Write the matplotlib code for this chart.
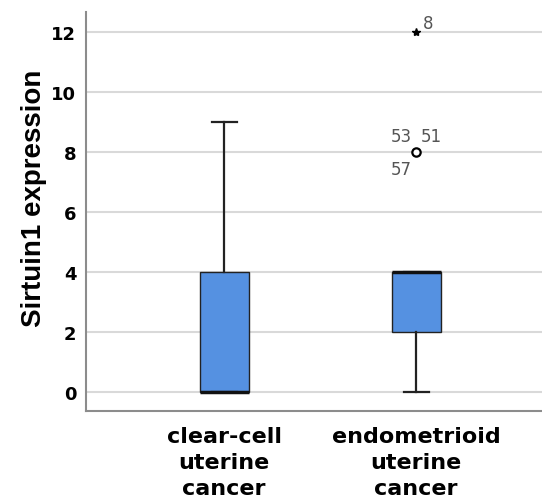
import numpy as np
from matplotlib import pyplot as plt

# box statistics
groups = ["clear-cell\nuterine\ncancer", "endometrioid\nuterine\ncancer"]
whis_low = [0, 0]
q1 = [0, 2]
median = [0, 4]
q3 = [4, 4]
whis_high = [9, 4]

# outliers of the second group: circle (mild) and star (extreme)
mild_y = [8]
mild_ids = ["53", "51", "57"]
extreme_y = [12]
extreme_ids = ["8"]

box_color = "#5591e1"

fig = plt.figure(figsize=(5.42, 5.02), dpi=100)
ax = fig.add_axes([86 / 542, 90 / 502, 1 - 86 / 542, (412 - 13) / 502])

stats = []
for i in range(len(groups)):
    stats.append(dict(whislo=whis_low[i], q1=q1[i], med=median[i], q3=q3[i],
                      whishi=whis_high[i], fliers=[], label=groups[i]))

ax.bxp(stats, positions=[1, 2], widths=0.255, patch_artist=True,
       showfliers=False,
       boxprops=dict(facecolor=box_color, edgecolor="#222222", linewidth=1.0),
       medianprops=dict(color="#111111", linewidth=2.5),
       whiskerprops=dict(color="#222222", linewidth=1.6),
       capprops=dict(color="#222222", linewidth=1.6),
       capwidths=0.13, zorder=3)

# outliers
ax.plot([2] * len(mild_y), mild_y, "o", mfc="white", mec="black", ms=6, mew=1.6, zorder=4)
ax.plot([2] * len(extreme_y), extreme_y, "*", color="black", ms=6, zorder=4)

lab = dict(textcoords="offset pixels", fontsize=12, color="#555555", va="center")
ax.annotate(extreme_ids[0], (2, extreme_y[0]), xytext=(7, 9), ha="left", **lab)
ax.annotate(mild_ids[0], (2, mild_y[0]), xytext=(-4, 16), ha="right", **lab)
ax.annotate(mild_ids[1], (2, mild_y[0]), xytext=(5, 16), ha="left", **lab)
ax.annotate(mild_ids[2], (2, mild_y[0]), xytext=(-4, -17), ha="right", **lab)

ax.set_xlim(0.281, 2.656)
ax.set_ylim(-0.633, 12.667)
ax.set_yticks(np.arange(0, 13, 2))
ax.yaxis.grid(True, color="#d9d9d9", linewidth=1.5, zorder=0)
ax.set_axisbelow(True)

for s in ["top", "right"]:
    ax.spines[s].set_visible(False)
for s in ["left", "bottom"]:
    ax.spines[s].set_color("#8c8c8c")
    ax.spines[s].set_linewidth(1.5)

ax.tick_params(axis="y", length=0, pad=7)
ax.tick_params(axis="x", length=0, pad=11)
for t in ax.get_yticklabels():
    t.set_fontfamily("DejaVu Sans")
    t.set_fontweight("bold")
    t.set_fontsize(13)
for t in ax.get_xticklabels():
    t.set_fontfamily("DejaVu Sans")
    t.set_fontweight("bold")
    t.set_fontsize(16)
    t.set_linespacing(1.36)

ax.set_ylabel("Sirtuin1 expression", fontfamily="Liberation Sans",
              fontweight="bold", fontsize=20)
ax.yaxis.set_label_coords(-0.086, 0.536)

fig.savefig("out.png", dpi=100)
